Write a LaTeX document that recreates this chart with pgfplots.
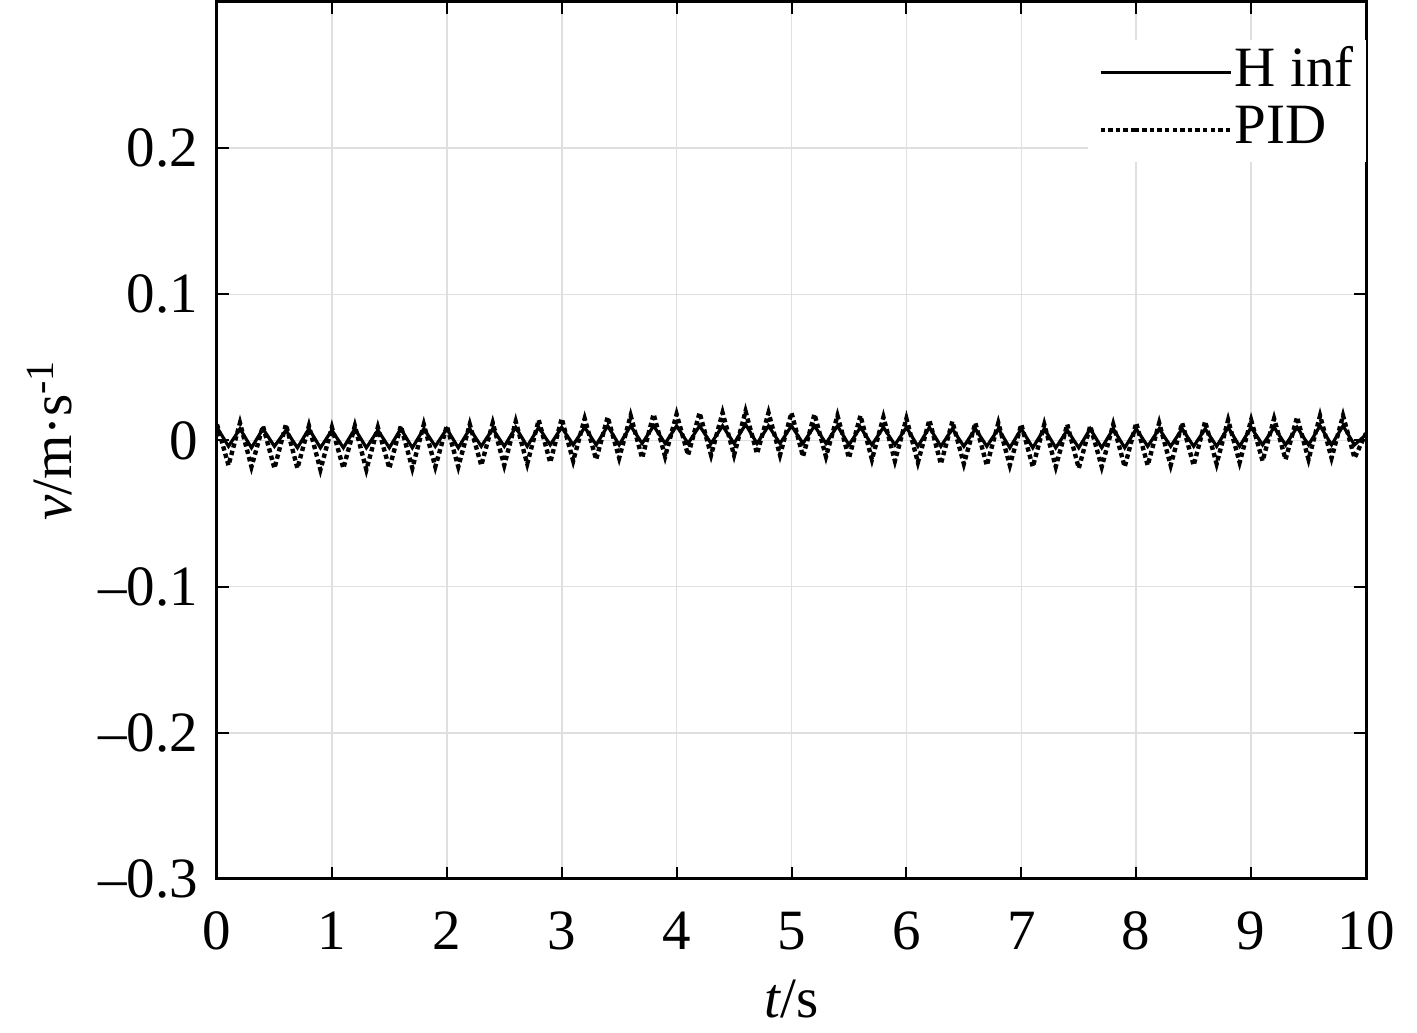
\documentclass[border=0pt]{standalone}
\usepackage{pgfplots}
\pgfplotsset{compat=1.18}
\usepackage{fontspec}
\setmainfont{Liberation Serif}
\begin{document}
\begin{tikzpicture}
\begin{axis}[
  scale only axis,
  width=574.5pt, height=438.5pt,
  xmin=0, xmax=10, ymin=-0.3, ymax=0.3,
  xtick={0,1,...,10},
  ytick={-0.3,-0.2,-0.1,0,0.1,0.2},
  yticklabels={--0.3,--0.2,--0.1,0,0.1,0.2},
  xticklabels={0,1,2,3,4,5,6,7,8,9,10},
  tick align=inside,
  major tick length=6pt,
  tick style={black, line width=1pt},
  axis line style={black, line width=1.5pt},
  grid=major,
  grid style={gray!25, line width=0.8pt},
  ticklabel style={font=\fontsize{28.5}{30}\selectfont},
  xticklabel style={yshift=-13pt},
  yticklabel style={xshift=-6pt},
  xlabel={\textit{t}/s},
  ylabel={\textit{v}/m·s\textsuperscript{-1}},
  label style={font=\fontsize{28.5}{30}\selectfont},
  xlabel style={yshift=-8pt},
  ylabel style={yshift=6pt},
  legend style={at={(1,1)}, anchor=north east, yshift=-19pt, draw=none, fill=white,
    font=\fontsize{28.5}{30}\selectfont, inner xsep=5pt, inner ysep=2pt,
    nodes={inner sep=1pt, text height=20pt, text depth=6.5pt},
    legend cell align=left},
  legend image code/.code={\path (-17pt,0pt) -- (0pt,0pt); \draw[#1] (0pt,0pt) -- (48pt,0pt);},
]
\addplot[black, line width=1.6pt] coordinates {
(0.0,0.009)(0.1,-0.004)(0.2,0.008)(0.3,-0.005)(0.4,0.008)(0.5,-0.004)(0.6,0.007)(0.7,-0.005)(0.8,0.008)(0.9,-0.005)
(1.0,0.007)(1.1,-0.005)(1.2,0.008)(1.3,-0.005)(1.4,0.007)(1.5,-0.005)(1.6,0.008)(1.7,-0.005)(1.8,0.008)(1.9,-0.004)
(2.0,0.008)(2.1,-0.005)(2.2,0.008)(2.3,-0.004)(2.4,0.008)(2.5,-0.004)(2.6,0.009)(2.7,-0.004)(2.8,0.009)(2.9,-0.003)
(3.0,0.009)(3.1,-0.003)(3.2,0.009)(3.3,-0.003)(3.4,0.010)(3.5,-0.003)(3.6,0.010)(3.7,-0.002)(3.8,0.010)(3.9,-0.002)
(4.0,0.010)(4.1,-0.002)(4.2,0.010)(4.3,-0.002)(4.4,0.010)(4.5,-0.002)(4.6,0.011)(4.7,-0.002)(4.8,0.010)(4.9,-0.002)
(5.0,0.010)(5.1,-0.002)(5.2,0.010)(5.3,-0.002)(5.4,0.010)(5.5,-0.003)(5.6,0.009)(5.7,-0.003)(5.8,0.009)(5.9,-0.003)
(6.0,0.009)(6.1,-0.004)(6.2,0.009)(6.3,-0.004)(6.4,0.008)(6.5,-0.004)(6.6,0.008)(6.7,-0.004)(6.8,0.008)(6.9,-0.005)
(7.0,0.008)(7.1,-0.005)(7.2,0.008)(7.3,-0.005)(7.4,0.007)(7.5,-0.005)(7.6,0.008)(7.7,-0.005)(7.8,0.008)(7.9,-0.005)
(8.0,0.008)(8.1,-0.004)(8.2,0.008)(8.3,-0.004)(8.4,0.008)(8.5,-0.004)(8.6,0.008)(8.7,-0.004)(8.8,0.009)(8.9,-0.004)
(9.0,0.009)(9.1,-0.003)(9.2,0.009)(9.3,-0.003)(9.4,0.009)(9.5,-0.003)(9.6,0.010)(9.7,-0.003)(9.8,0.010)(9.9,-0.003)
(10.0,0.004)
};
\addlegendentry{H inf}
\addplot[black, line width=2.2pt, dash pattern=on 2.2pt off 1.6pt] coordinates {
(0.0,0.011)(0.1,-0.017)(0.2,0.012)(0.3,-0.018)(0.4,0.010)(0.5,-0.019)(0.6,0.011)(0.7,-0.019)(0.8,0.010)(0.9,-0.020)
(1.0,0.009)(1.1,-0.019)(1.2,0.010)(1.3,-0.020)(1.4,0.009)(1.5,-0.019)(1.6,0.010)(1.7,-0.019)(1.8,0.011)(1.9,-0.018)
(2.0,0.010)(2.1,-0.018)(2.2,0.011)(2.3,-0.017)(2.4,0.012)(2.5,-0.017)(2.6,0.013)(2.7,-0.016)(2.8,0.014)(2.9,-0.015)
(3.0,0.015)(3.1,-0.014)(3.2,0.015)(3.3,-0.013)(3.4,0.016)(3.5,-0.012)(3.6,0.017)(3.7,-0.012)(3.8,0.018)(3.9,-0.011)
(4.0,0.018)(4.1,-0.010)(4.2,0.019)(4.3,-0.010)(4.4,0.019)(4.5,-0.010)(4.6,0.020)(4.7,-0.009)(4.8,0.019)(4.9,-0.010)
(5.0,0.019)(5.1,-0.011)(5.2,0.018)(5.3,-0.011)(5.4,0.017)(5.5,-0.012)(5.6,0.017)(5.7,-0.013)(5.8,0.016)(5.9,-0.014)
(6.0,0.015)(6.1,-0.015)(6.2,0.014)(6.3,-0.016)(6.4,0.013)(6.5,-0.016)(6.6,0.012)(6.7,-0.017)(6.8,0.012)(6.9,-0.017)
(7.0,0.011)(7.1,-0.018)(7.2,0.011)(7.3,-0.018)(7.4,0.011)(7.5,-0.019)(7.6,0.010)(7.7,-0.018)(7.8,0.011)(7.9,-0.018)
(8.0,0.012)(8.1,-0.017)(8.2,0.012)(8.3,-0.017)(8.4,0.012)(8.5,-0.017)(8.6,0.013)(8.7,-0.016)(8.8,0.014)(8.9,-0.015)
(9.0,0.014)(9.1,-0.014)(9.2,0.015)(9.3,-0.013)(9.4,0.016)(9.5,-0.013)(9.6,0.017)(9.7,-0.012)(9.8,0.017)(9.9,-0.012)
(10.0,0.005)
};
\addlegendentry{PID}
\end{axis}
\pgfresetboundingbox
\path[use as bounding box] ([shift={(-108.5pt,-77pt)}]current axis.south west) rectangle ([shift={(25.5pt,1pt)}]current axis.north east);
\end{tikzpicture}
\end{document}
